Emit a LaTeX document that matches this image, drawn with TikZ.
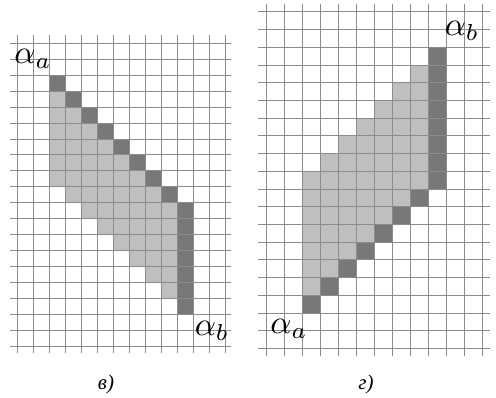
\documentclass[tikz,border=0pt]{standalone}
\usepackage{fontspec}
\setmainfont{Liberation Serif}
\definecolor{lightcell}{gray}{0.75}
\definecolor{darkcell}{gray}{0.47}
\definecolor{gridcol}{gray}{0.55}
\tikzset{gridline/.style={draw=gridcol,line width=1pt},
  alphalabel/.style={scale=3.3,inner sep=0pt},
  caplabel/.style={scale=2.1,font=\itshape,inner sep=0pt}}
\begin{document}
\begin{tikzpicture}[x=1pt,y=-1pt]
\useasboundingbox (0,0) rectangle (496,397);
% left grid: cells 16 x 15.95
\foreach \r in {3,...,15}{\pgfmathtruncatemacro\lo{max(2,\r-6)}\pgfmathtruncatemacro\hi{min(\r-1,9)}\foreach \c in {\lo,...,\hi}{\fill[lightcell] (17+16*\c,43+15.95*\r) rectangle ++(16,15.95);}}
\foreach \c in {2,...,9}{\fill[darkcell] (17+16*\c,43+15.95*\c) rectangle ++(16,15.95);}
\foreach \r in {10,...,16}{\fill[darkcell] (17+16*10,43+15.95*\r) rectangle ++(16,15.95);}
\foreach \i in {0,...,13}{\draw[gridline] (17+16*\i,35) -- (17+16*\i,353);}
\foreach \j in {0,...,19}{\draw[gridline] (10,43.3+15.95*\j) -- (231,43.3+15.95*\j);}
% right grid: cells 18 x 17.72
\foreach \r in {3,...,15}{\pgfmathtruncatemacro\lo{max(2,11-\r)}\pgfmathtruncatemacro\hi{min(8,17-\r)}\foreach \c in {\lo,...,\hi}{\fill[lightcell] (266.7+18*\c,11.7+17.72*\r) rectangle ++(18,17.72);}}
\foreach \r in {2,...,9}{\fill[darkcell] (266.7+18*9,11.7+17.72*\r) rectangle ++(18,17.72);}
\foreach \r in {10,...,16}{\fill[darkcell] (266.7+18*18-18*\r,11.7+17.72*\r) rectangle ++(18,17.72);}
\foreach \i in {0,...,12}{\draw[gridline] (266.7+18*\i,4) -- (266.7+18*\i,356);}
\foreach \j in {0,...,19}{\draw[gridline] (258,11.9+17.72*\j) -- (490,11.9+17.72*\j);}
% labels
\node[alphalabel] (aL) at (33,59){$\alpha_a$};
\node[alphalabel] (bL) at (212,331){$\alpha_b$};
\node[alphalabel] (bR) at (462,31){$\alpha_b$};
\node[alphalabel] (aR) at (289,329){$\alpha_a$};
\node[caplabel] (capV) at (106,384){в)};
\node[caplabel] (capG) at (366,384){г)};
\end{tikzpicture}
\end{document}
